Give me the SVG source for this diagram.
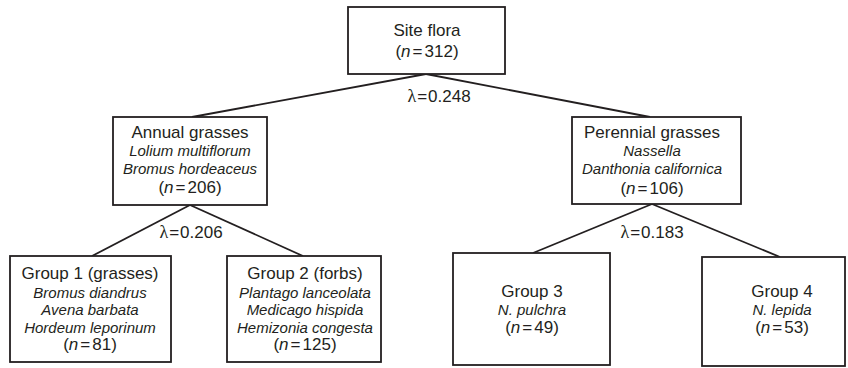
<svg xmlns="http://www.w3.org/2000/svg" width="848" height="368" viewBox="0 0 848 368">
<style>
.box{fill:#fff;stroke:#231f20;stroke-width:1.8}
.edge{stroke:#231f20;stroke-width:1.8;fill:none}
text{font-family:"Liberation Sans",Arial,sans-serif;fill:#231f20;text-anchor:middle}
.t{font-size:17px}
.i{font-size:15px;font-style:italic}
.n{font-size:17px}
.it{font-style:italic}
.lam{font-family:"Liberation Serif","DejaVu Serif",serif;font-size:18px}
</style>
<rect width="848" height="368" fill="#fff"/>
<g id="connectors">
<line class="edge" x1="426" y1="74" x2="192" y2="117"/>
<line class="edge" x1="426" y1="74" x2="650" y2="117"/>
<line class="edge" x1="190" y1="205" x2="92" y2="256"/>
<line class="edge" x1="190" y1="205" x2="303" y2="256"/>
<line class="edge" x1="652" y1="204" x2="533" y2="253"/>
<line class="edge" x1="652" y1="204" x2="780" y2="257"/>
</g>
<g id="site-flora">
<rect class="box" x="348" y="7" width="157" height="67"/>
<text class="t" x="427" y="36">Site flora</text>
<text class="n" x="427" y="57">(<tspan class="it">n</tspan><tspan dx="2">=</tspan><tspan dx="2">312)</tspan></text>
</g>
<g id="annual-grasses">
<rect class="box" x="113" y="117" width="154" height="88"/>
<text class="t" x="190" y="138">Annual grasses</text>
<text class="i" x="190" y="156">Lolium multiflorum</text>
<text class="i" x="190" y="174">Bromus hordeaceus</text>
<text class="n" x="190" y="193">(<tspan class="it">n</tspan><tspan dx="2">=</tspan><tspan dx="2">206)</tspan></text>
</g>
<g id="perennial-grasses">
<rect class="box" x="572" y="117" width="169" height="87"/>
<text class="t" x="652" y="138">Perennial grasses</text>
<text class="i" x="652" y="156">Nassella</text>
<text class="i" x="652" y="174">Danthonia californica</text>
<text class="n" x="652" y="194">(<tspan class="it">n</tspan><tspan dx="2">=</tspan><tspan dx="2">106)</tspan></text>
</g>
<g id="group-1">
<rect class="box" x="10" y="256" width="161" height="106"/>
<text class="t" x="90" y="279">Group 1 (grasses)</text>
<text class="i" x="90" y="298">Bromus diandrus</text>
<text class="i" x="90" y="315">Avena barbata</text>
<text class="i" x="90" y="333">Hordeum leporinum</text>
<text class="n" x="90" y="350">(<tspan class="it">n</tspan><tspan dx="2">=</tspan><tspan dx="2">81)</tspan></text>
</g>
<g id="group-2">
<rect class="box" x="227" y="256" width="154" height="106"/>
<text class="t" x="305" y="279">Group 2 (forbs)</text>
<text class="i" x="305" y="298">Plantago lanceolata</text>
<text class="i" x="305" y="315">Medicago hispida</text>
<text class="i" x="305" y="333">Hemizonia congesta</text>
<text class="n" x="305" y="350">(<tspan class="it">n</tspan><tspan dx="2">=</tspan><tspan dx="2">125)</tspan></text>
</g>
<g id="group-3">
<rect class="box" x="453" y="253" width="157" height="112"/>
<text class="t" x="532" y="297">Group 3</text>
<text class="i" x="532" y="315">N. pulchra</text>
<text class="n" x="532" y="333">(<tspan class="it">n</tspan><tspan dx="2">=</tspan><tspan dx="2">49)</tspan></text>
</g>
<g id="group-4">
<rect class="box" x="702" y="257" width="143" height="109"/>
<text class="t" x="782" y="297">Group 4</text>
<text class="i" x="782" y="315">N. lepida</text>
<text class="n" x="782" y="333">(<tspan class="it">n</tspan><tspan dx="2">=</tspan><tspan dx="2">53)</tspan></text>
</g>
<g id="labels">
<text class="n" x="439" y="102"><tspan class="lam">λ</tspan><tspan dx="1">=</tspan><tspan dx="1">0.248</tspan></text>
<text class="n" x="191" y="238"><tspan class="lam">λ</tspan><tspan dx="1">=</tspan><tspan dx="1">0.206</tspan></text>
<text class="n" x="652" y="238"><tspan class="lam">λ</tspan><tspan dx="1">=</tspan><tspan dx="1">0.183</tspan></text>
</g>
</svg>
